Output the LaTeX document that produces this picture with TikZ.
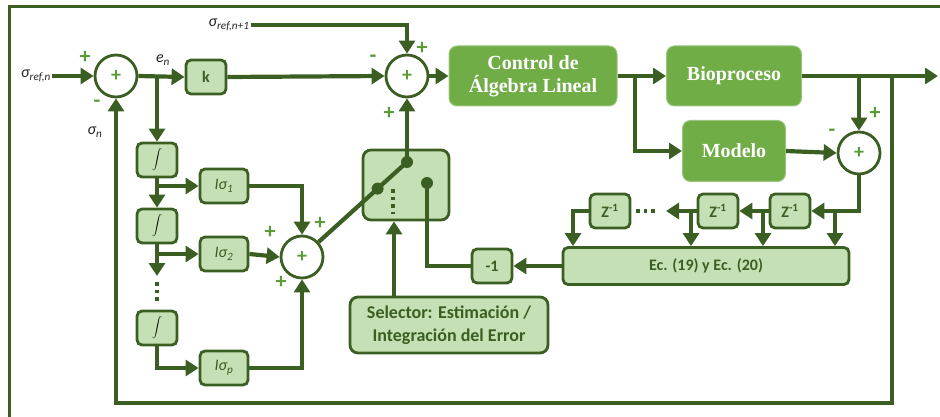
\documentclass[tikz,border=0pt]{standalone}
\usepackage{fontspec}
\setmainfont{Liberation Serif}
\setsansfont{Carlito}
\usepackage{tikz}
\usetikzlibrary{arrows.meta,positioning,calc}
\definecolor{dkgreen}{HTML}{3B5F23}
\definecolor{ltgreen}{HTML}{C5E0B4}
\definecolor{mdgreen}{HTML}{70AD47}
\definecolor{signgreen}{HTML}{5B9B35}

\begin{document}
\begin{tikzpicture}[
  x=1pt, y=-1pt,
  wire/.style={line width=4.2pt, dkgreen},
  arr/.style={wire, -{Triangle[length=13pt,width=16pt]}},
  sumnode/.style={
    circle, draw=dkgreen, fill=white, line width=2.8pt,
    minimum size=42pt, inner sep=0pt, text=signgreen,
    font=\sffamily\bfseries\fontsize{20}{20}\selectfont
  },
  gainbox/.style={
    rectangle, rounded corners=5pt, draw=dkgreen, fill=ltgreen,
    line width=2.8pt, text=dkgreen, align=center,
    font=\sffamily\bfseries\fontsize{16}{18}\selectfont,
    minimum width=40pt, minimum height=34pt, inner sep=2pt
  },
  gainsig/.style={gainbox, minimum width=48pt,
    font=\sffamily\itshape\fontsize{16}{16}\selectfont},
  intsym/.style={gainbox, font=\fontsize{12}{12}\selectfont},
  plantbox/.style={
    rectangle, rounded corners=8pt, fill=mdgreen, draw=mdgreen!70,
    line width=1pt, text=white, align=center,
    font=\bfseries\fontsize{20}{23}\selectfont, minimum height=60pt
  },
  signlbl/.style={text=signgreen, inner sep=0pt,
    font=\sffamily\bfseries\fontsize{22}{22}\selectfont},
  varlbl/.style={text=black!85, inner sep=1pt,
    font=\sffamily\itshape\fontsize{16}{16}\selectfont},
  contact/.style={circle, fill=dkgreen, inner sep=0pt, minimum size=12pt},
  dotline/.style={line width=4.2pt, dkgreen, dash pattern=on 3.5pt off 4pt},
]
\useasboundingbox (0,0) rectangle (940,417);
% page frame
\draw[dkgreen, line width=3pt] (9,417) -- (9,7) -- (940,7);

% ── Summing junctions ──
\node[sumnode] (s1) at (116,76) {+};
\node[sumnode] (s2) at (302,257) {+};
\node[sumnode] (s3) at (407,76) {+};
\node[sumnode] (s4) at (859,153) {+};

% ── Blocks ──
\node[gainbox] (k) at (206,77) {k};
\node[intsym] (int1) at (157,160) {\color{black}$\displaystyle\int$};
\node[intsym] (int2) at (157,226) {\color{black}$\displaystyle\int$};
\node[intsym] (int3) at (157,328) {\color{black}$\displaystyle\int$};
\node[gainsig] (lsig1) at (224,186) {Iσ\textsubscript{1}};
\node[gainsig] (lsig2) at (224,254) {Iσ\textsubscript{2}};
\node[gainsig] (lsigp) at (224,368) {Iσ\textsubscript{p}};
\node[gainbox, minimum width=86pt, minimum height=70pt, rounded corners=8pt] (sw) at (406,185) {};
\node[gainbox] (neg) at (492,266) {-1};
\node[gainbox, minimum width=286pt, minimum height=37pt] (ec) at (706,266) {Ec. (19) y Ec. (20)};
\node[gainbox, minimum width=198pt, minimum height=56pt, rounded corners=8pt,
  font=\sffamily\bfseries\fontsize{18}{23}\selectfont] (sel) at (449,325)
  {Selector: Estimación /\\Integración del Error};
\node[gainbox] (z1) at (790,211) {Z\textsuperscript{-1}};
\node[gainbox] (z2) at (718,211) {Z\textsuperscript{-1}};
\node[gainbox] (z3) at (610,211) {Z\textsuperscript{-1}};

\node[plantbox, minimum width=168pt] (ctrl) at (533,76) {Control de\\Álgebra Lineal};
\node[plantbox, minimum width=135pt] (bio) at (734,76) {Bioproceso};
\node[plantbox, minimum width=103pt, minimum height=61pt] (mod) at (734,151) {Modelo};

% ── Signals ──
\node[varlbl] (sref) at (36,76) {σ\textsubscript{ref,n}};
\node[varlbl] (srefnext) at (229,25) {σ\textsubscript{ref,n+1}};
\node[varlbl] at (163,60) {e\textsubscript{n}};
\node[varlbl] at (95,132) {σ\textsubscript{n}};

% ── Signs ──
\node[signlbl] at (85,57) {+};
\node[signlbl] at (97,104) {-};
\node[signlbl] at (373,59) {-};
\node[signlbl] at (422,48) {+};
\node[signlbl] at (389,113) {+};
\node[signlbl] at (320,223) {+};
\node[signlbl] at (270,232) {+};
\node[signlbl] at (281,282) {+};
\node[signlbl] at (875,113) {+};
\node[signlbl] at (832,133) {-};

% ── Switch ──
\coordinate (ctop) at (407,162);
\coordinate (cright) at (427,183);
\coordinate (cmid) at ($(s2)!0.72!(ctop)$);
\draw[wire] (s2) -- (ctop);
\node[contact] at (ctop) {};
\node[contact] at (cmid) {};
\node[contact] at (cright) {};
\draw[dotline] (393,189) -- (393,214);

% ── Helper points ──
\coordinate (dotstop) at (157,276);
\coordinate (fbtap) at (892,76);
\coordinate (fbcorner) at (892,403);
\coordinate (mtap) at (635,76);
\coordinate (yout) at (938,76);
\coordinate (t0) at (835,211);
\coordinate (t1) at (763,211);
\coordinate (t2) at (691,211);
\coordinate (t3) at (573,211);
\coordinate (zdots) at (666,211);

% ── Edges ──
\draw[arr] (sref.east) -- (s1.west);
\draw[arr] (s1.east) -- (k.west);
\draw[arr] (int1 |- s1) -- (int1.north);
\draw[arr] (int1.south) -- (int2.north);
\draw[arr] (int1.south |- lsig1) -- (lsig1.west);
\draw[arr] (int2.south) -- (dotstop);
\draw[dotline] (157,282) -- (157,303);
\draw[arr] (int2.south |- lsig2) -- (lsig2.west);
\draw[arr] (int3.south) |- (lsigp.west);
\draw[arr] (lsig1.east) -| (s2.north);
\draw[arr] (lsig2.east) -- (s2.west);
\draw[arr] (lsigp.east) -| (s2.south);
\draw[arr] (k.east) -- (s3.west);
\draw[arr] (srefnext.east) -| (s3.north);
\draw[arr] (ctop) -- (s3.south);
\draw[arr] ([xshift=-55pt]sel.north) -- ([xshift=-55pt]sel.north |- sw.south);
\draw[wire] (cright) |- (neg.west);
\draw[arr] (ec.west) -- (neg.east);
\draw[arr] (s3.east) -- (ctrl.west);
\draw[arr] (ctrl.east) -- (bio.west);
\draw[arr] (mtap) |- (mod.west);
\draw[arr] (bio.east) -- (yout);
\draw[arr] (bio.east -| s4) -- (s4.north);
\draw[arr] (mod.east) -- (s4.west);
\draw[arr] (fbtap) -- (fbcorner) -| (s1.south);
\draw[arr] (s4.south) |- (z1.east);
\draw[arr] (t0) -- (t0 |- ec.north);
\draw[arr] (z1.west) -- (z2.east);
\draw[arr] (t1) -- (t1 |- ec.north);
\draw[arr] (z2.west) -- (zdots);
\draw[arr] (t2) -- (t2 |- ec.north);
\draw[dotline] (636,211) -- (658,211);
\draw[arr] (z3.west) -- (t3) -- (t3 |- ec.north);
\end{tikzpicture}
\end{document}
